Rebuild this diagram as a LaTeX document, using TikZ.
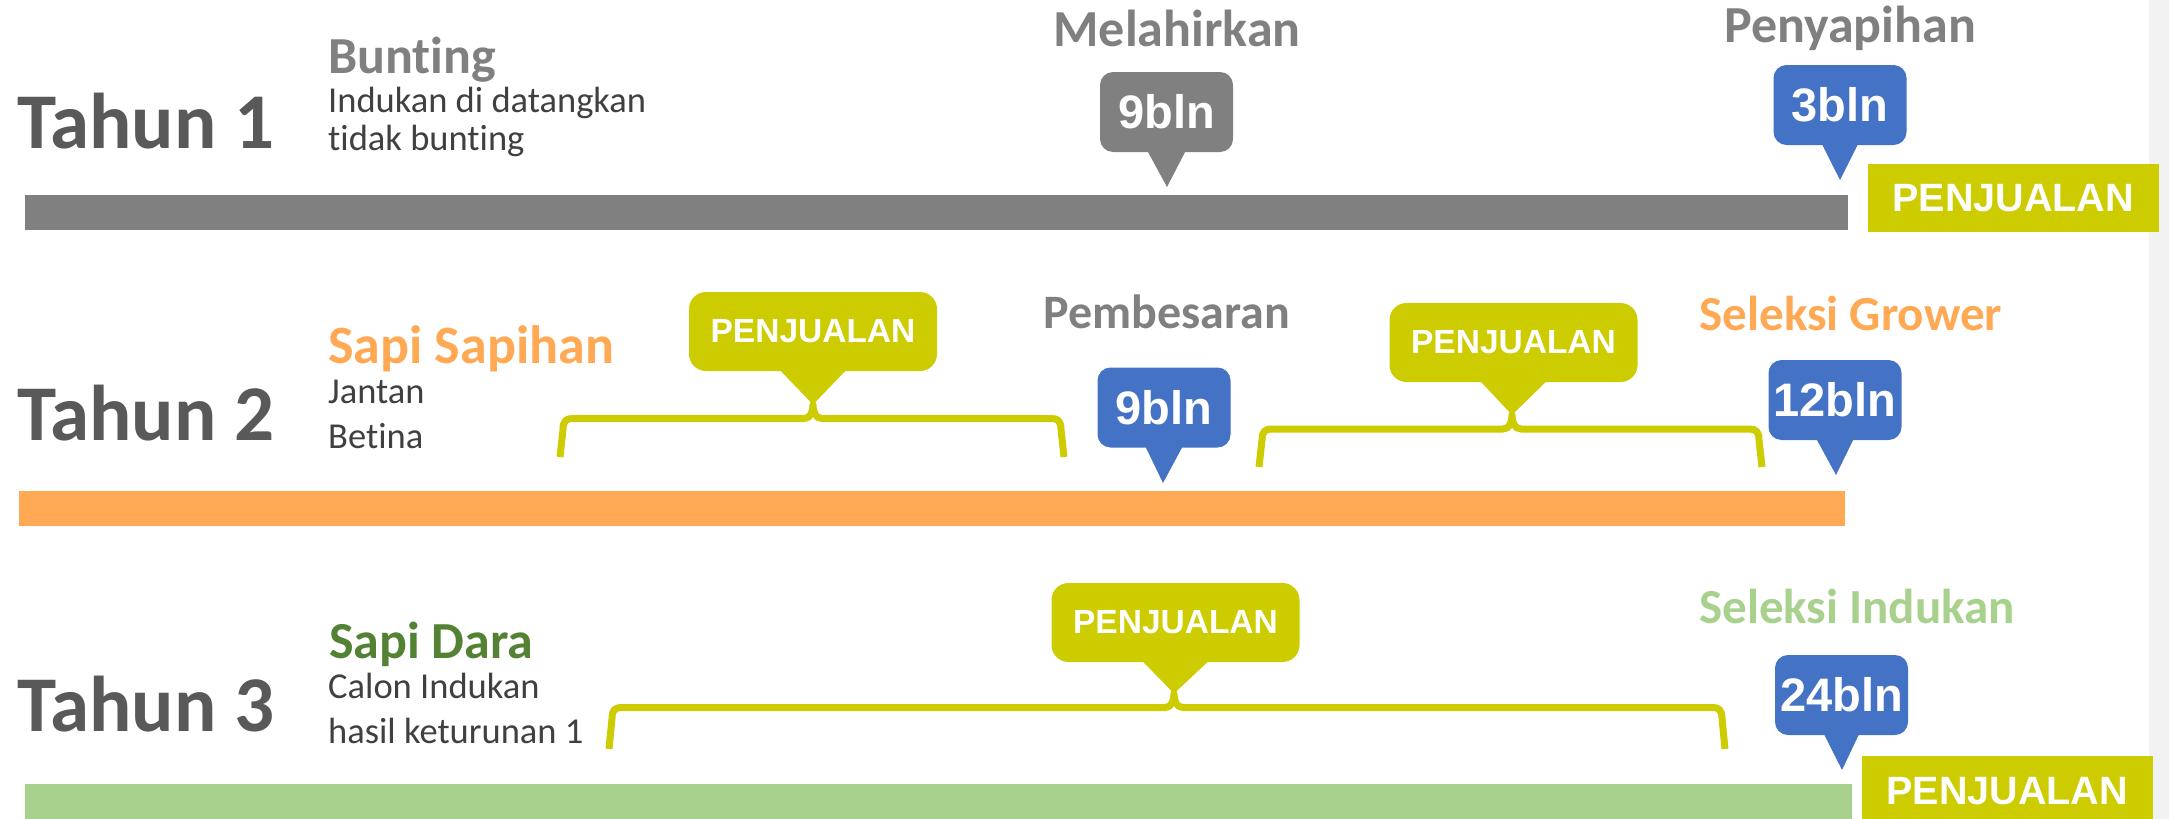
\documentclass[tikz,border=0pt]{standalone}
\usepackage{fontspec}
\setmainfont{Carlito}[Ligatures=NoCommon]
\newfontfamily\arialf{Liberation Sans}
\definecolor{tahunc}{HTML}{595959}
\definecolor{greyc}{HTML}{808080}
\definecolor{bodyc}{HTML}{404040}
\definecolor{olivec}{HTML}{CCCC00}
\definecolor{orangec}{HTML}{FFA955}
\definecolor{lgreenc}{HTML}{A9D18E}
\definecolor{dgreenc}{HTML}{548235}
\definecolor{bluec}{HTML}{4472C4}
\definecolor{stripc}{HTML}{F2F2F2}
\newcommand\fsz[1]{\fontsize{#1}{#1}\selectfont}
% brace: name, x left, x centre, x right, y line, y bottom
\newcommand\mybrace[6]{%
  \coordinate (#1) at (#3,{#5-14});
  \draw[bracestyle] (#2,#6) -- ({#2+3},{#5+11})
    .. controls ({#2+3},{#5+3}) and ({#2+6},#5) .. ({#2+12},#5)
    -- ({#3-9},#5)
    .. controls ({#3-3},#5) and (#3,{#5-6}) .. (#1)
    .. controls (#3,{#5-6}) and ({#3+3},#5) .. ({#3+9},#5)
    -- ({#4-12},#5)
    .. controls ({#4-6},#5) and ({#4-3},{#5+3}) .. ({#4-3},{#5+11})
    -- (#4,#6);
}
% tail: node, tip, half width, colour
\newcommand\mytail[4]{%
  \fill[#4] ([xshift=-#3pt,yshift=2pt]#1.south) -- (#2) -- ([xshift=#3pt,yshift=2pt]#1.south) -- cycle;
}
\begin{document}
\begin{tikzpicture}[x=1pt,y=-1pt,
  tahun/.style={anchor=base west, inner sep=0pt, text=tahunc, font=\bfseries\fsz{79}},
  ttl/.style={anchor=base, inner sep=0pt, font=\bfseries\fsz{52}},
  body/.style={anchor=base west, inner sep=0pt, text=bodyc, font=\fsz{36.5}},
  callout/.style={rounded corners=13pt, inner sep=0pt, text=white, font=\arialf\bfseries\fsz{47}, minimum width=133pt, minimum height=80pt},
  penj/.style={callout, rounded corners=17pt, fill=olivec, font=\arialf\bfseries\fsz{33.5}, minimum width=248pt, minimum height=79pt},
  salebox/.style={fill=olivec, inner sep=0pt},
  saletext/.style={inner sep=0pt, text=white, font=\arialf\bfseries\fsz{39.5}},
  bracestyle/.style={draw=olivec, line width=7pt, line join=round},
]
\path[use as bounding box] (0,0) rectangle (2169,819);
\fill[white] (0,0) rectangle (2169,819);
\fill[stripc] (2149,0) rectangle (2169,819);

% ---------------- Row 1
\node[tahun] (t1) at (17,148) {Tahun 1};
\node[ttl, anchor=base west, text=greyc] (bunting) at (328,73) {Bunting};
\node[body] (ind1) at (328,112) {Indukan di datangkan};
\node[body] (ind2) at (328,150) {tidak bunting};
\fill[greyc] (25,195) rectangle (1848,230);
\node[ttl, text=greyc] (mel) at (1177,46) {Melahirkan};
\node[callout, fill=greyc] (c9a) at (1166.5,112) {9bln};
\coordinate (c9atip) at (1167,187);
\mytail{c9a}{c9atip}{19.5}{greyc}
\node[ttl, text=greyc] (peny) at (1850,42) {Penyapihan};
\node[callout, fill=bluec] (c3) at (1840,105) {3bln};
\coordinate (c3tip) at (1840,180);
\mytail{c3}{c3tip}{18.5}{bluec}
\fill[salebox] (1868,164) rectangle (2159,232);
\node[saletext] (s1) at (2013,198) {PENJUALAN};

% ---------------- Row 2
\node[tahun] (t2) at (17,440) {Tahun 2};
\node[ttl, anchor=base west, text=orangec, font=\bfseries\fsz{54}] (sapih) at (328,363) {Sapi Sapihan};
\node[body] (jan) at (328,403) {Jantan};
\node[body] (bet) at (328,448) {Betina};
\fill[orangec] (19,491) rectangle (1845,526);
\mybrace{br1}{560}{813}{1064}{418.5}{457}
\node[penj] (p1) at (813,331.5) {PENJUALAN};
\mytail{p1}{br1}{34}{olivec}
\node[ttl, text=greyc, font=\bfseries\fsz{48}] (pemb) at (1167,328) {Pembesaran};
\node[callout, fill=bluec] (c9b) at (1164,407.5) {9bln};
\coordinate (c9btip) at (1163,483);
\mytail{c9b}{c9btip}{19}{bluec}
\mybrace{br2}{1259}{1512}{1762}{429}{467}
\node[penj] (p2) at (1513.5,342.5) {PENJUALAN};
\mytail{p2}{br2}{34}{olivec}
\node[ttl, text=orangec, font=\bfseries\fsz{49}] (selg) at (1851,330) {Seleksi Grower};
\node[callout, fill=bluec] (c12) at (1835,400) {12bln};
\coordinate (c12tip) at (1836,475);
\mytail{c12}{c12tip}{19}{bluec}

% ---------------- Row 3
\node[tahun] (t3) at (17,731) {Tahun 3};
\node[ttl, anchor=base west, text=dgreenc] (dara) at (329,658) {Sapi Dara};
\node[body] (cal) at (328,698) {Calon Indukan};
\node[body] (has) at (328,743) {hasil keturunan 1};
\fill[lgreenc] (25,784) rectangle (1852,819);
\mybrace{br3}{609}{1174}{1725}{707.5}{749}
\node[penj] (p3) at (1175.5,622.5) {PENJUALAN};
\mytail{p3}{br3}{34}{olivec}
\node[ttl, text=lgreenc, font=\bfseries\fsz{49}] (seli) at (1857,623) {Seleksi Indukan};
\node[callout, fill=bluec] (c24) at (1841.5,695) {24bln};
\coordinate (c24tip) at (1842,770);
\mytail{c24}{c24tip}{18}{bluec}
\fill[salebox] (1862,756) rectangle (2153,819);
\node[saletext] (s3) at (2007,791) {PENJUALAN};
\end{tikzpicture}
\end{document}
